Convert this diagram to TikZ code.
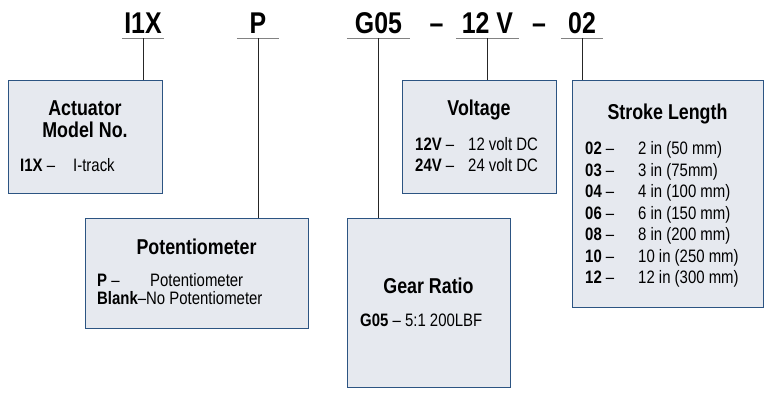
\documentclass[tikz,border=0pt]{standalone}
\usepackage{fontspec}
\setmainfont{Liberation Sans}[FakeStretch=0.83]
\usepackage{xcolor}
\usetikzlibrary{positioning}

\definecolor{boxblue}{RGB}{44,84,130}
\definecolor{boxfill}{RGB}{230,233,239}
\definecolor{ulgray}{RGB}{130,130,130}
\newcommand{\optrow}[2]{\makebox[53pt][l]{\textbf{#1} –}#2}

\begin{document}
\begin{tikzpicture}[
    x=1pt, y=-1pt,
    code/.style={font=\fontsize{30}{30}\selectfont\bfseries, inner sep=0pt, text depth=5pt, anchor=base},
    uline/.style={draw=ulgray, line width=0.9pt},
    lead/.style={draw=black!85, line width=0.8pt},
    optbox/.style={draw=boxblue, fill=boxfill, line width=1.2pt, anchor=north west, inner sep=0pt},
    boxtitle/.style={font=\fontsize{21.5}{22}\selectfont\bfseries, anchor=base, inner sep=0pt},
    boxbody/.style={font=\fontsize{18}{21.5}\selectfont, anchor=base west, inner sep=0pt},
]
    \useasboundingbox (0,0) rectangle (773,394);

    % ordering code
    \node[code, minimum width=42pt] (i1x) at (143,33) {I1X};
    \node[code, minimum width=42pt] (pot) at (258,33) {P};
    \node[code, minimum width=63pt] (gear) at (378.5,33) {G05};
    \node[code] (sepA) at (436.5,33) {–};
    \node[code, minimum width=63pt] (volt) at (487.5,33) {12 V};
    \node[code] (sepB) at (539,33) {–};
    \node[code, minimum width=42pt] (strk) at (582,33) {02};
    \foreach \c in {i1x,pot,gear,volt,strk}
        \draw[uline] (\c.south west) -- (\c.south east);

    % option boxes
    \node[optbox, minimum width=154pt, minimum height=113pt] (actbox) at (8,80) {};
    \node[optbox, minimum width=154pt, minimum height=113pt] (voltbox) at (402,80) {};
    \node[optbox, minimum width=191pt, minimum height=227pt] (strkbox) at (572,80) {};
    \node[optbox, minimum width=223pt, minimum height=110pt] (potbox) at (85,218) {};
    \node[optbox, minimum width=163pt, minimum height=169pt] (gearbox) at (347,218) {};

    \draw[lead] (i1x.south) -- (i1x.south |- actbox.north);
    \draw[lead] (pot.south) -- (pot.south |- potbox.north);
    \draw[lead] (gear.south) -- (gear.south |- gearbox.north);
    \draw[lead] (volt.south) -- (volt.south |- voltbox.north);
    \draw[lead] (strk.south) -- (strk.south |- strkbox.north);

    % titles
    \node[boxtitle] (actT) at (85,115) {\begin{tabular}[t]{@{}c@{}}Actuator\\Model No.\end{tabular}};
    \node[boxtitle] (voltT) at (479,115) {Voltage};
    \node[boxtitle] (strkT) at (667.5,119) {Stroke Length};
    \node[boxtitle] (potT) at (196.5,254) {Potentiometer};
    \node[boxtitle] (gearT) at (428.5,293) {Gear Ratio};

    % option lists
    \node[boxbody] (actL) at (20,171.5) {\optrow{I1X}{I-track}};
    \node[boxbody] (voltL) at (415,150) {\begin{tabular}[t]{@{}l@{}}
        \optrow{12V}{12 volt DC}\\
        \optrow{24V}{24 volt DC}
    \end{tabular}};
    \node[boxbody] (strkL) at (585,154.5) {\begin{tabular}[t]{@{}l@{}}
        \optrow{02}{2 in (50 mm)}\\
        \optrow{03}{3 in (75mm)}\\
        \optrow{04}{4 in (100 mm)}\\
        \optrow{06}{6 in (150 mm)}\\
        \optrow{08}{8 in (200 mm)}\\
        \optrow{10}{10 in (250 mm)}\\
        \optrow{12}{12 in (300 mm)}
    \end{tabular}};
    \node[boxbody, font=\fontsize{18}{17}\selectfont] (potL) at (97,286.5) {\begin{tabular}[t]{@{}l@{}}
        \optrow{P}{Potentiometer}\\
        \textbf{Blank}–No Potentiometer
    \end{tabular}};
    \node[boxbody] (gearL) at (360,326.5) {\textbf{G05} – 5:1 200LBF};
\end{tikzpicture}
\end{document}
